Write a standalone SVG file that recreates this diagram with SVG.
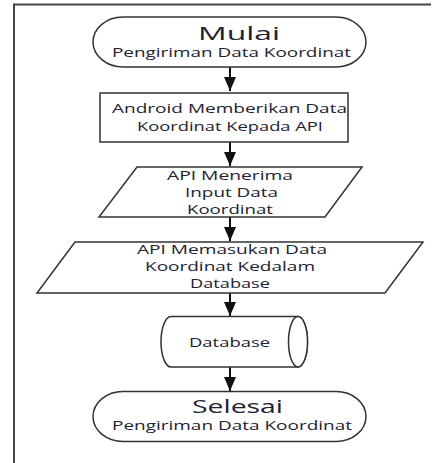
<svg xmlns="http://www.w3.org/2000/svg" width="436" height="463" viewBox="0 0 436 463">
  <style>
    .shape { fill: #ffffff; stroke: #333333; stroke-width: 1.5; }
    .frame { fill: none; stroke: #444444; stroke-width: 2; }
    .link { fill: none; stroke: #111111; stroke-width: 2; }
    .title { font-family: "Open Sans", "Liberation Sans", sans-serif; font-size: 18px; fill: #222233; }
    .label { font-family: "Open Sans", "Liberation Sans", sans-serif; font-size: 13px; fill: #222233; }
  </style>
  <defs>
    <marker id="arrow" markerUnits="userSpaceOnUse" markerWidth="14" markerHeight="12" refX="14" refY="6" orient="auto">
      <path d="M0,0 L14,6 L0,12 Z" fill="#111111"/>
    </marker>
  </defs>

  <rect width="436" height="463" fill="#ffffff"/>

  <!-- outer frame: top and left edges -->
  <path class="frame" d="M14,463 L14,4.5 L431,4.5"/>

  <!-- connectors -->
  <g id="connectors">
    <line class="link" x1="230" y1="67" x2="230" y2="91" marker-end="url(#arrow)"/>
    <line class="link" x1="230" y1="142" x2="230" y2="166" marker-end="url(#arrow)"/>
    <line class="link" x1="230" y1="217" x2="230" y2="241" marker-end="url(#arrow)"/>
    <line class="link" x1="230" y1="293" x2="230" y2="316" marker-end="url(#arrow)"/>
    <line class="link" x1="230" y1="367" x2="230" y2="391" marker-end="url(#arrow)"/>
  </g>

  <!-- start terminator -->
  <g id="start">
    <rect class="shape" x="93" y="17" width="273" height="50" rx="30" ry="25"/>
    <text class="title" x="239" y="39.5" text-anchor="middle" textLength="82" lengthAdjust="spacingAndGlyphs">Mulai</text>
    <text class="label" x="231.5" y="56.5" text-anchor="middle" textLength="239" lengthAdjust="spacingAndGlyphs">Pengiriman Data Koordinat</text>
  </g>

  <!-- process: android sends coordinates -->
  <g id="send">
    <rect class="shape" x="100" y="93" width="248" height="49"/>
    <text class="label" x="229.5" y="113" text-anchor="middle" textLength="235" lengthAdjust="spacingAndGlyphs">Android Memberikan Data</text>
    <text class="label" x="230" y="131" text-anchor="middle" textLength="186" lengthAdjust="spacingAndGlyphs">Koordinat Kepada API</text>
  </g>

  <!-- input: API receives coordinates -->
  <g id="receive">
    <polygon class="shape" points="137,167 362,167 325,217 99,217"/>
    <text class="label" x="230" y="179.5" text-anchor="middle" textLength="126" lengthAdjust="spacingAndGlyphs">API Menerima</text>
    <text class="label" x="231.5" y="197" text-anchor="middle" textLength="93" lengthAdjust="spacingAndGlyphs">Input Data</text>
    <text class="label" x="230" y="214" text-anchor="middle" textLength="86" lengthAdjust="spacingAndGlyphs">Koordinat</text>
  </g>

  <!-- input: API stores coordinates -->
  <g id="store">
    <polygon class="shape" points="75,242 423,242 385,293 37,293"/>
    <text class="label" x="232" y="254" text-anchor="middle" textLength="190" lengthAdjust="spacingAndGlyphs">API Memasukan Data</text>
    <text class="label" x="230" y="271" text-anchor="middle" textLength="170" lengthAdjust="spacingAndGlyphs">Koordinat Kedalam</text>
    <text class="label" x="230" y="288" text-anchor="middle" textLength="80" lengthAdjust="spacingAndGlyphs">Database</text>
  </g>

  <!-- stored data: database cylinder -->
  <g id="database">
    <path class="shape" d="M171,316.5 L298,316.5 A9.5,25.25 0 0 1 298,367 L171,367 A10,25.25 0 0 1 171,316.5 Z"/>
    <ellipse class="shape" cx="298" cy="341.75" rx="9.5" ry="25.25"/>
    <text class="label" x="229.5" y="346.5" text-anchor="middle" textLength="81" lengthAdjust="spacingAndGlyphs">Database</text>
  </g>

  <!-- end terminator -->
  <g id="end">
    <rect class="shape" x="93" y="391.5" width="273" height="50" rx="30" ry="25"/>
    <text class="title" x="237.5" y="412.5" text-anchor="middle" textLength="91" lengthAdjust="spacingAndGlyphs">Selesai</text>
    <text class="label" x="232" y="430" text-anchor="middle" textLength="240" lengthAdjust="spacingAndGlyphs">Pengiriman Data Koordinat</text>
  </g>
</svg>
